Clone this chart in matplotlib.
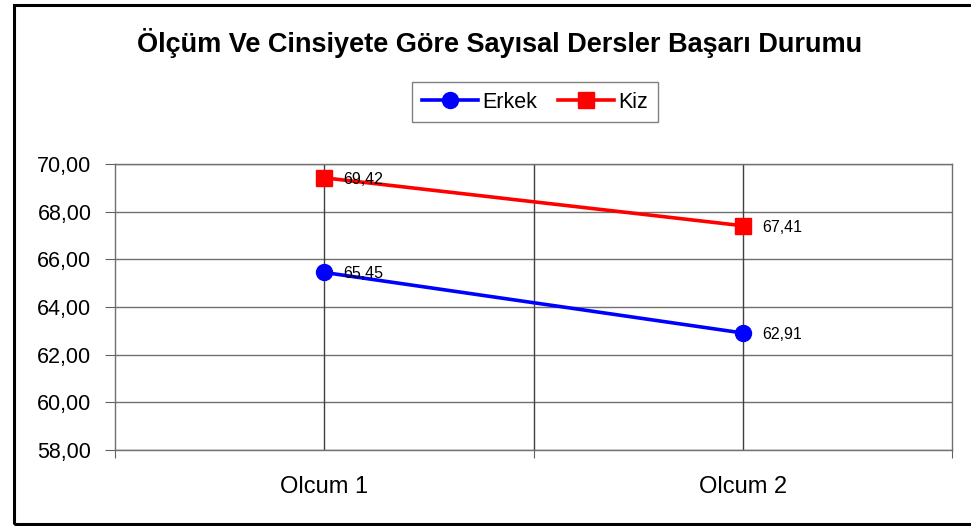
# Ölçüm ve cinsiyete göre sayısal dersler başarı durumu
import matplotlib.pyplot as plt
from matplotlib.patches import Rectangle
from matplotlib.ticker import FuncFormatter

plt.rcParams['font.family'] = ['Liberation Sans', 'DejaVu Sans']

categories = ['Olcum 1', 'Olcum 2']
erkek = [65.45, 62.91]
kiz = [69.42, 67.41]

fig = plt.figure(figsize=(9.71, 5.26), dpi=100)
ax = fig.add_axes([115 / 971, 1 - 450 / 526, (952 - 115) / 971, (450 - 164) / 526])

x = list(range(len(categories)))
ax.plot(x, erkek, color='blue', linewidth=2.6, marker='o', markersize=11.5, label='Erkek', zorder=3)
ax.plot(x, kiz, color='red', linewidth=2.6, marker='s', markersize=11, label='Kiz', zorder=3)

fmt = lambda v: f'{v:.2f}'.replace('.', ',')
for series in (erkek, kiz):
    for xi, v in zip(x, series):
        ax.annotate(fmt(v), (xi, v), xytext=(14, -1), textcoords='offset points',
                    ha='left', va='center', fontsize=11.5, color='black', zorder=4)

ax.set_xlim(-0.5, 1.5)
ax.set_ylim(58, 70)
ax.set_yticks(range(58, 71, 2))
ax.yaxis.set_major_formatter(FuncFormatter(lambda v, p: fmt(v)))
ax.set_xticks([-0.5, 0.5, 1.5])
ax.set_xticklabels([])
ax.set_xticks(x, minor=True)
ax.set_xticklabels(categories, minor=True)
ax.tick_params(axis='x', which='minor', length=0, pad=19, labelsize=17)
ax.tick_params(axis='x', which='major', length=6, direction='out', color='#606060')
ax.tick_params(axis='y', length=7, direction='out', color='#606060', labelsize=15.5, pad=10)

ax.grid(axis='y', color='#707070', linewidth=1)
for xv in [0, 0.5, 1]:
    ax.axvline(xv, color='#404040', linewidth=1, zorder=1)
ax.set_axisbelow(True)
for s in ax.spines.values():
    s.set_color('#707070')
    s.set_linewidth(1)

fig.text(500 / 971, 1 - 43 / 526, 'Ölçüm Ve Cinsiyete Göre Sayısal Dersler Başarı Durumu',
         ha='center', va='center', fontsize=19.5, fontweight='bold')

leg = fig.legend(loc='center', bbox_to_anchor=(535 / 971, 1 - 102 / 526), ncol=2,
                 fontsize=15.5, frameon=True, fancybox=False, edgecolor='#606060',
                 handlelength=2.6, columnspacing=1.0, handletextpad=0.2, borderpad=0.45)
leg.get_frame().set_linewidth(1)

fig.patches.append(Rectangle((13.5 / 971, 1 - 524 / 526), 1.0, (524 - 4.5) / 526,
                             transform=fig.transFigure, fill=False, edgecolor='black',
                             linewidth=2.2, clip_on=False))

fig.savefig('out.png', dpi=100)
